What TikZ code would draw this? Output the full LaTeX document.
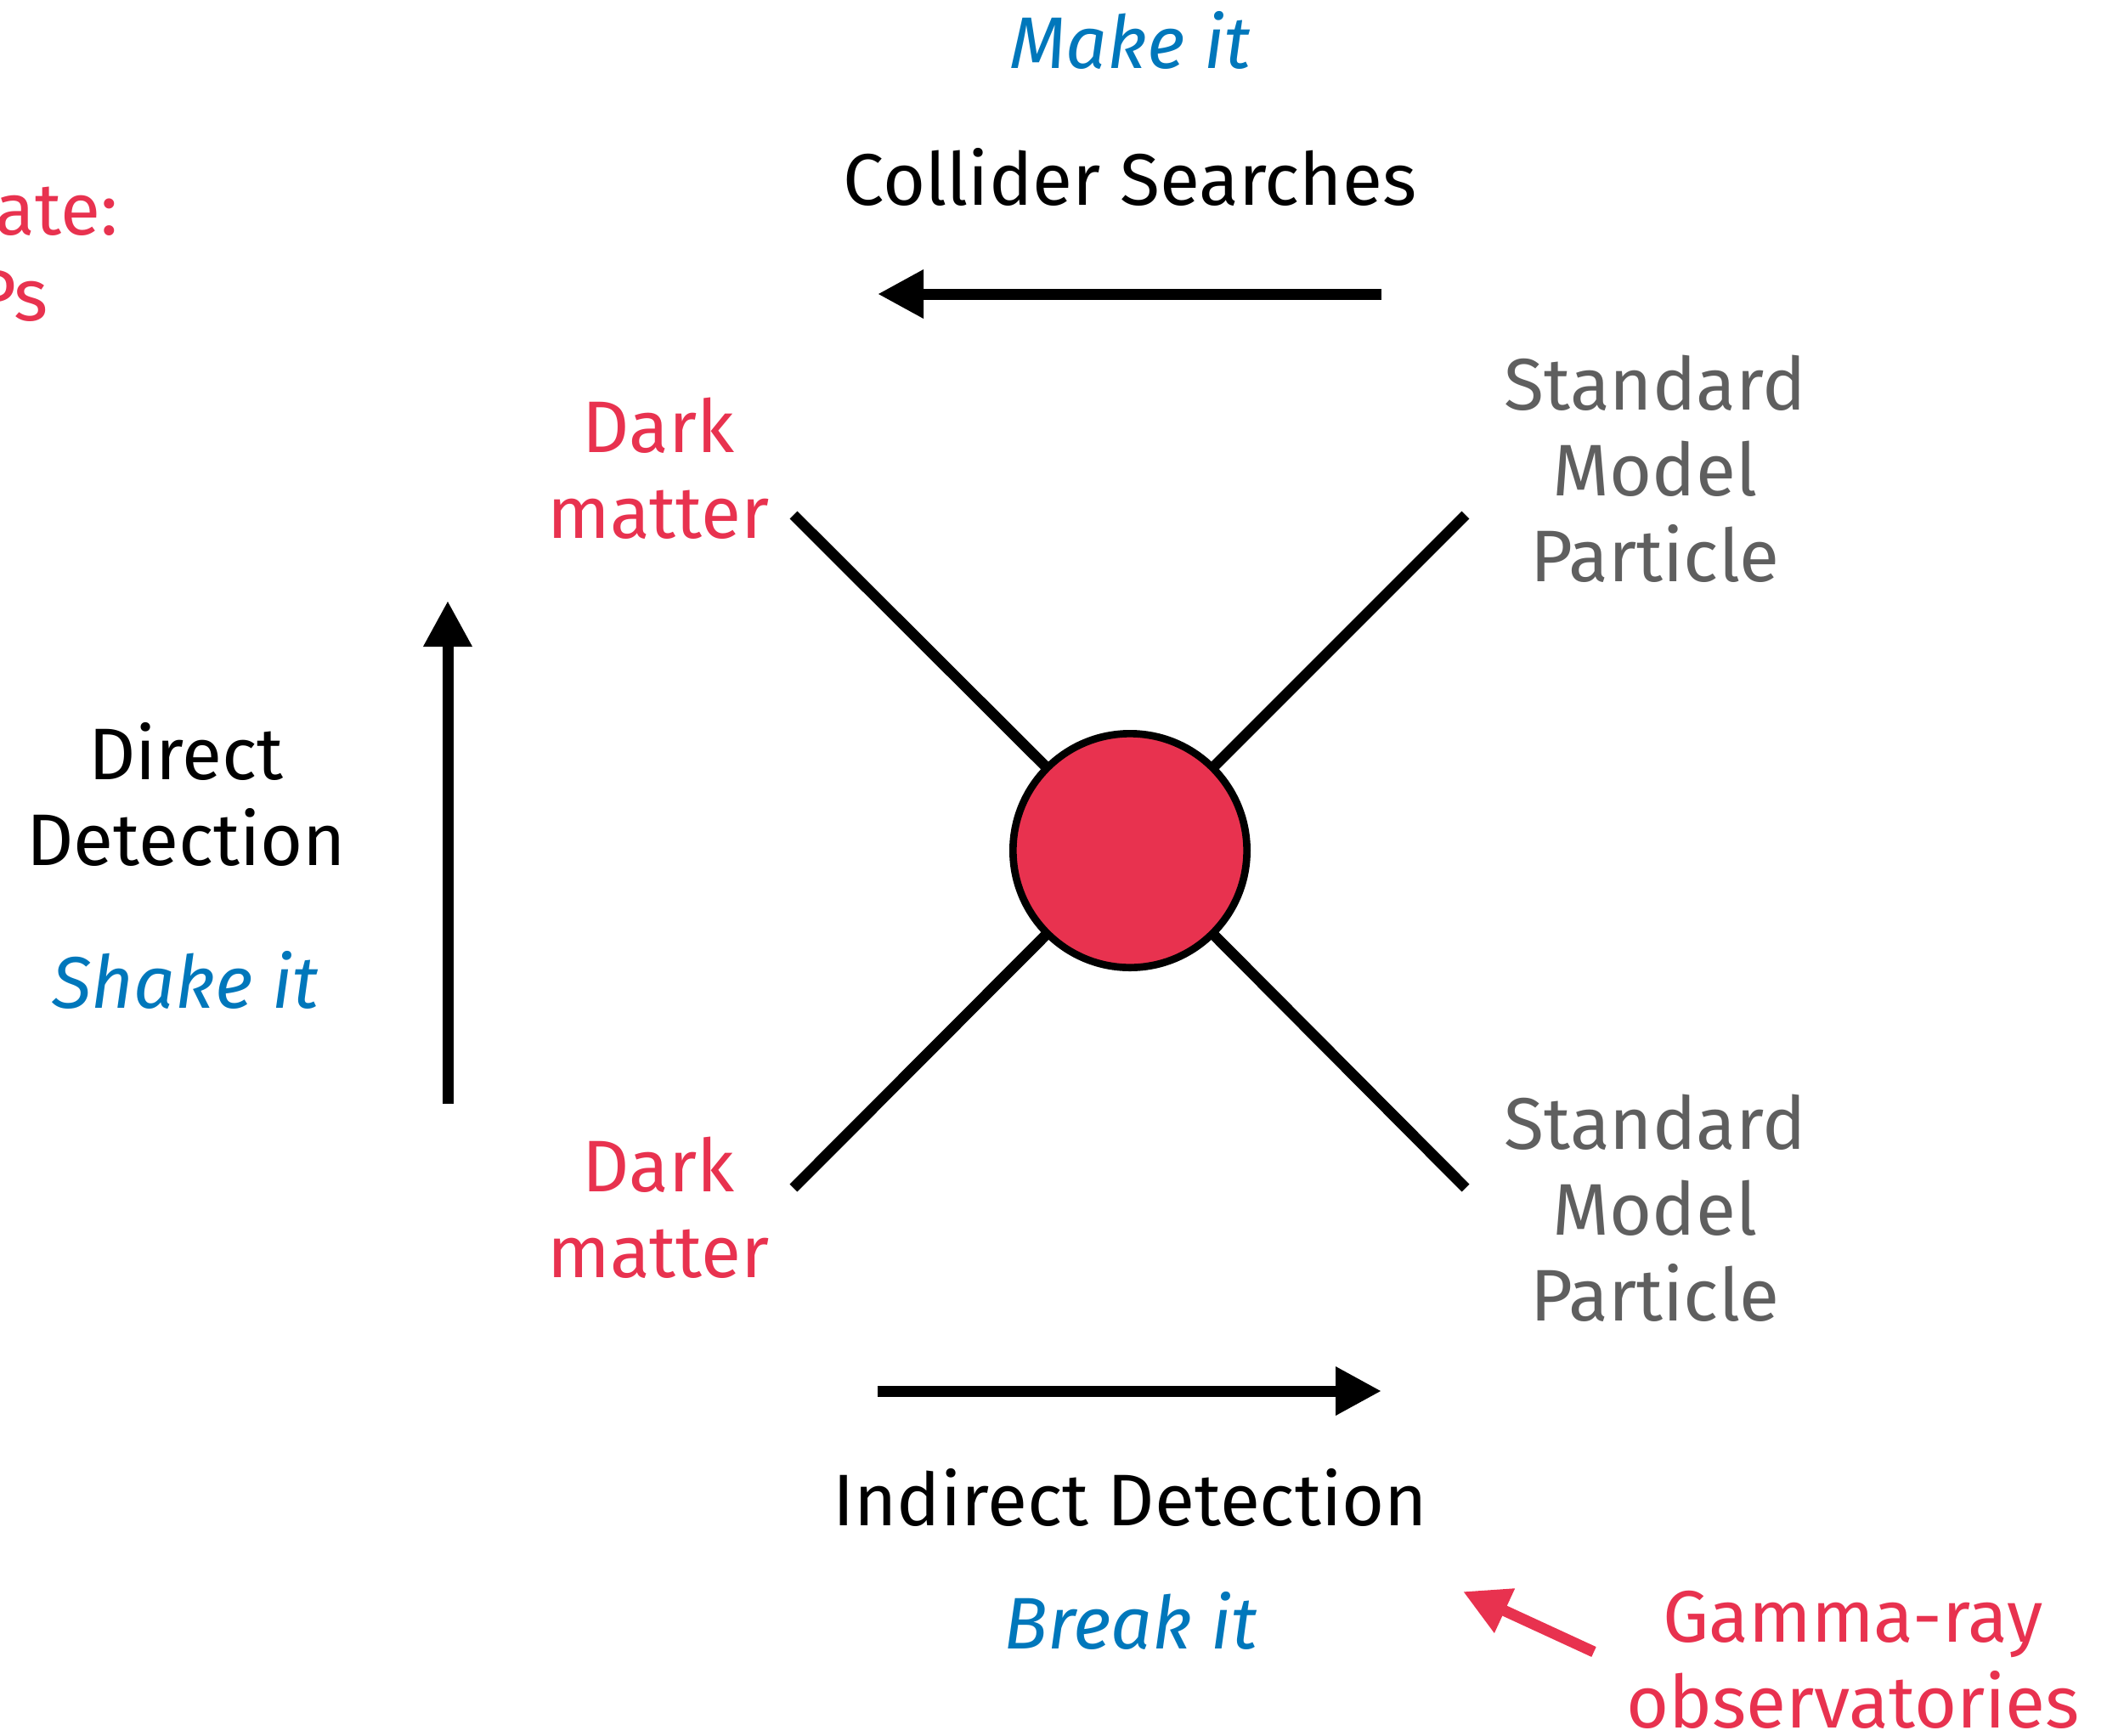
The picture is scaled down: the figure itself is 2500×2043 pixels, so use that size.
\documentclass[tikz,border=0pt]{standalone}
\usepackage{fontspec}
\setmainfont{Fira Sans}
\usetikzlibrary{arrows.meta,backgrounds}
\definecolor{dmred}{HTML}{E8324F}
\definecolor{dmblue}{HTML}{0077BB}
\definecolor{smgray}{HTML}{5F5F5F}
\begin{document}
\begin{tikzpicture}[x=0.3pt,y=-0.3pt,
  lbl/.style={inner sep=0pt, outer sep=0pt, font=\fontsize{25.8}{30.3}\selectfont, align=center, anchor=base},
  redlbl/.style={lbl, text=dmred},
  graylbl/.style={lbl, text=smgray},
  bluelbl/.style={lbl, text=dmblue, font=\fontsize{25.8}{30.3}\selectfont\itshape},
  leg/.style={line width=3.8pt},
  bigarrow/.style={line width=3.9pt, -{Triangle[length=16.2pt,width=16.2pt]}},
  blob/.style={circle, draw=black, line width=2.6pt, fill=dmred, minimum size=82.6pt, inner sep=0pt}
]
\useasboundingbox (0,0) rectangle (2500,2043);
\clip (0,0) rectangle (2500,2043);

% central vertex
\node[blob] (c) at (1330,1001) {};
\coordinate (ul) at (934,606);
\coordinate (ur) at (1725,606);
\coordinate (ll) at (934,1398);
\coordinate (lr) at (1725,1398);
\begin{pgfonlayer}{background}
\draw[leg] (ul) -- (c.center);
\draw[leg] (ur) -- (c.center);
\draw[leg] (ll) -- (c.center);
\draw[leg] (lr) -- (c.center);
\end{pgfonlayer}

% particle labels (anchor = baseline of last line)
\node[redlbl] (dm1) at (775,633) {Dark\\matter};
\node[redlbl] (dm2) at (775,1503) {Dark\\matter};
\node[graylbl] (sm1) at (1948,684) {Standard\\Model\\Particle};
\node[graylbl] (sm2) at (1948,1554) {Standard\\Model\\Particle};

% collider
\node[bluelbl] (make) at (1330,80) {Make it};
\node[lbl] (coll) at (1330,241) {Collider Searches};
\coordinate (ta1) at (1626,346);
\coordinate (ta2) at (1033,346);
\draw[bigarrow] (ta1) -- (ta2);

% direct detection
\node[lbl] (dd) at (219,1018) {Direct\\Detection};
\node[bluelbl] (shake) at (218,1186) {Shake it};
\coordinate (va1) at (527,1299);
\coordinate (va2) at (527,707);
\draw[bigarrow] (va1) -- (va2);

% indirect detection
\coordinate (ba1) at (1033,1637);
\coordinate (ba2) at (1626,1637);
\draw[bigarrow] (ba1) -- (ba2);
\node[lbl] (id) at (1330,1795) {Indirect Detection};
\node[bluelbl] (break) at (1331,1940) {Break it};

% gamma-ray
\node[redlbl] (gamma) at (2181,2033) {Gamma-ray\\observatories};
\coordinate (ga1) at (1876,1944);
\coordinate (ga2) at (1722,1873);
\draw[bigarrow, draw=dmred, fill=dmred] (ga1) -- (ga2);

% candidate label, cut off at the left edge as in the reference
\node[redlbl] (cand) at (-69,377) {Candidate:\\WIMPs};
\end{tikzpicture}
\end{document}
